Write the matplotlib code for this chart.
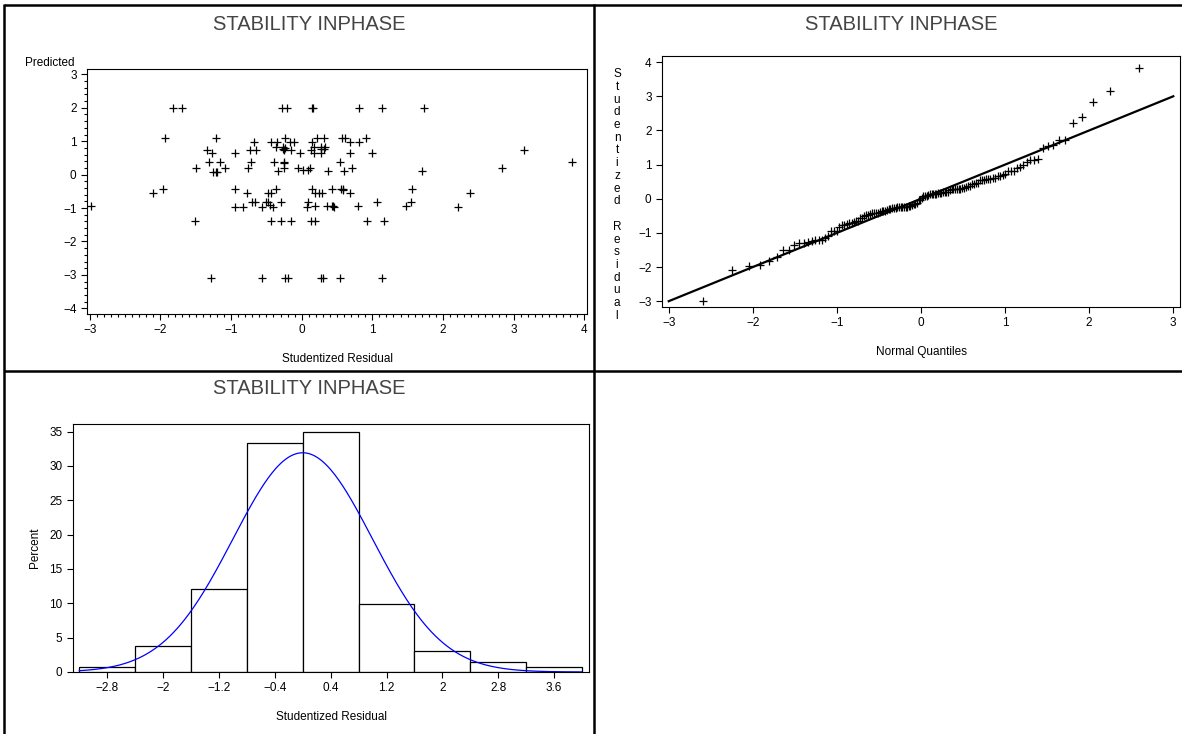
import numpy as np
import matplotlib
matplotlib.use("Agg")
import matplotlib.pyplot as plt
from matplotlib.lines import Line2D
from matplotlib.ticker import MultipleLocator
from statistics import NormalDist

W, H = 1182, 734

# Studentized residuals and the matching predicted values
residual = [
    -2.99,
    -2.10, -1.96, -1.93, -1.82, -1.70,
    -1.51, -1.49, -1.34, -1.27, -1.21, -1.31, -1.15, -1.25, -1.20, -1.08,
    -1.29, -0.94, -0.95, -0.95, -0.83, -1.22,
    -0.78, -0.76, -0.72, -0.73, -0.65, -0.68, -0.70, -0.66, -0.56, -0.56,
    -0.50, -0.47, -0.47, -0.43, -0.37, -0.41, -0.29, -0.43, -0.29, -0.15,
    -0.24, -0.20, -0.28, -0.21, -0.43, -0.35, -0.24, -0.17, -0.11, -0.36,
    -0.27, -0.25, -0.15, -0.39, -0.25, -0.25, -0.34, -0.25, -0.03, -0.05,
    -0.27, -0.23, -0.45,
    0.02, 0.12, 0.09, 0.16, 0.15, 0.13, 0.17, 0.15, 0.21, 0.17,
    0.14, 0.19, 0.09, 0.08, 0.19, 0.13, 0.19,
    0.31, 0.28, 0.33, 0.28, 0.31, 0.57, 0.62, 0.69, 0.28, 0.68,
    0.54, 0.37, 0.60, 0.71, 0.25, 0.29, 0.43, 0.55, 0.58, 0.68,
    0.36, 0.43, 0.46, 0.28, 0.30, 0.54, 0.59, 0.45,
    0.81, 1.14, 0.81, 0.91, 0.99, 1.56, 0.80, 1.07, 1.48, 1.55,
    0.92, 1.17, 1.14,
    1.73, 1.71, 2.38, 2.21,
    2.84, 3.15,
    3.83,
]
predicted = [
    -0.93,
    -0.56, -0.43, 1.10, 2.00, 2.00,
    -1.39, 0.21, 0.74, 0.64, 1.10, 0.39, 0.39, 0.07, 0.07, 0.21,
    -3.08, 0.66, -0.43, -0.96, -0.96, 0.08,
    -0.56, 0.21, 0.39, 0.74, 0.74, 0.97, -0.83, -0.83, -0.96, -3.08,
    -0.83, -0.83, -0.56, -0.56, -0.43, -0.96, -0.83, -1.39, -1.39, -1.39,
    -3.08, -3.08, 2.00, 2.00, 0.97, 0.97, 1.10, 0.97, 0.97, 0.84,
    0.84, 0.74, 0.74, 0.39, 0.39, 0.34, 0.11, 0.21, 0.66, 0.21,
    0.77, 0.80, -0.90,
    0.14, 0.21, 0.14, 2.00, 2.00, 0.74, 0.66, 0.97, 1.10, 0.84,
    -0.43, -0.56, -0.83, -0.96, -0.93, -1.39, -1.39,
    1.10, 0.84, 0.84, 0.77, 0.77, 1.10, 1.10, 0.97, 0.66, 0.66,
    0.39, 0.11, 0.11, 0.21, -0.56, -0.56, -0.43, -0.43, -0.43, -0.56,
    -0.93, -0.93, -0.96, -3.08, -3.08, -3.08, -0.45, -0.95,
    2.00, 2.00, 0.97, 1.10, 0.66, -0.43, -0.93, -0.83, -0.93, -0.83,
    -1.39, -1.39, -3.08,
    2.00, 0.11, -0.56, -0.96,
    0.21, 0.74,
    0.39,
]

# Histogram of studentized residuals (percent per bin)
bin_mid = [-2.8, -2.0, -1.2, -0.4, 0.4, 1.2, 2.0, 2.8, 3.6]
bin_pct = [0.75, 3.85, 12.15, 33.4, 34.9, 9.85, 3.0, 1.5, 0.75]
bin_width = 0.8
hist_ticks = ["\u22122.8", "\u22122", "\u22121.2", "\u22120.4", "0.4", "1.2", "2", "2.8", "3.6"]

# Fitted normal parameters
MU, SIGMA = 0.0, 1.0

TITLE = "STABILITY INPHASE"
TICK_FONT = dict(family="Liberation Sans", size=8.5)
LABEL_FONT = dict(family="Liberation Sans", size=8.5)

plt.rcParams["font.family"] = ["Liberation Sans", "DejaVu Sans"]
plt.rcParams["axes.linewidth"] = 0.8

fig = plt.figure(figsize=(W / 100, H / 100), dpi=100)


def rect(left, top, right, bottom):
    return [left / W, 1 - bottom / H, (right - left) / W, (bottom - top) / H]


def fx(px):
    return px / W


def fy(py):
    return 1 - py / H


def style(ax):
    ax.tick_params(which="major", direction="out", length=4.5, width=0.8,
                   labelsize=TICK_FONT["size"], pad=3)
    ax.tick_params(which="minor", direction="out", length=2.5, width=0.8)
    for lab in ax.get_xticklabels() + ax.get_yticklabels():
        lab.set_family(TICK_FONT["family"])


# Panel frame
frame_kw = dict(color="black", lw=1.8, transform=fig.transFigure, solid_capstyle="butt")
fig.add_artist(Line2D([fx(4), fx(W)], [fy(5), fy(5)], **frame_kw))
fig.add_artist(Line2D([fx(4), fx(4)], [fy(4), fy(H)], **frame_kw))
fig.add_artist(Line2D([fx(594), fx(594)], [fy(4), fy(H)], **frame_kw))
fig.add_artist(Line2D([fx(4), fx(W)], [fy(371), fy(371)], **frame_kw))

title_kw = dict(ha="center", va="center", fontsize=14.5, color="#444444",
                family="Liberation Sans")
fig.text(fx(309), fy(25), TITLE, **title_kw)
fig.text(fx(901), fy(25), TITLE, **title_kw)
fig.text(fx(309), fy(389), TITLE, **title_kw)

MARK = dict(linestyle="none", marker="+", ms=6, mew=0.9, color="black")

# Predicted vs studentized residual
ax1 = fig.add_axes(rect(87, 69, 587, 314))
ax1.plot(residual, predicted, **MARK)
ax1.set_xlim(-3.04, 4.04)
ax1.set_ylim(-4.17, 3.16)
ax1.xaxis.set_major_locator(MultipleLocator(1))
ax1.xaxis.set_minor_locator(MultipleLocator(0.1))
ax1.yaxis.set_major_locator(MultipleLocator(1))
ax1.yaxis.set_minor_locator(MultipleLocator(0.2))
style(ax1)
ax1.set_xlabel("Studentized Residual", labelpad=12, **LABEL_FONT)
fig.text(fx(50), fy(63), "Predicted", ha="center", va="center", **LABEL_FONT)

# Normal quantile plot of the residuals
n = len(residual)
ordered = np.sort(residual)
nd = NormalDist()
quantiles = [nd.inv_cdf((i - 0.375) / (n + 0.25)) for i in range(1, n + 1)]
ax2 = fig.add_axes(rect(662, 56, 1180, 307))
ax2.plot([-3, 3], [MU - 3 * SIGMA, MU + 3 * SIGMA], color="black", lw=1.6)
ax2.plot(quantiles, ordered, **MARK)
ax2.set_xlim(-3.08, 3.08)
ax2.set_ylim(-3.17, 4.18)
ax2.xaxis.set_major_locator(MultipleLocator(1))
ax2.yaxis.set_major_locator(MultipleLocator(1))
style(ax2)
ax2.set_xlabel("Normal Quantiles", labelpad=12, **LABEL_FONT)
fig.text(fx(617), fy(195), "\n".join("Studentized Residual"), ha="center", va="center",
         linespacing=1.08, **LABEL_FONT)

# Histogram with fitted normal curve
ax3 = fig.add_axes(rect(73, 424, 589, 672))
ax3.bar(bin_mid, bin_pct, width=bin_width, color="white", edgecolor="black", linewidth=0.9)
xs = np.linspace(bin_mid[0] - bin_width / 2, bin_mid[-1] + bin_width / 2, 400)
curve = np.array([100 * bin_width * NormalDist(MU, SIGMA).pdf(v) for v in xs])
ax3.plot(xs, curve, color="#0000ff", lw=0.9)
ax3.set_xlim(-3.29, 4.10)
ax3.set_ylim(0, 36.1)
ax3.set_xticks(bin_mid)
ax3.set_xticklabels(hist_ticks)
ax3.yaxis.set_major_locator(MultipleLocator(5))
style(ax3)
ax3.set_xlabel("Studentized Residual", labelpad=12, **LABEL_FONT)
ax3.set_ylabel("Percent", labelpad=6, **LABEL_FONT)

fig.savefig("out.png", dpi=100)
